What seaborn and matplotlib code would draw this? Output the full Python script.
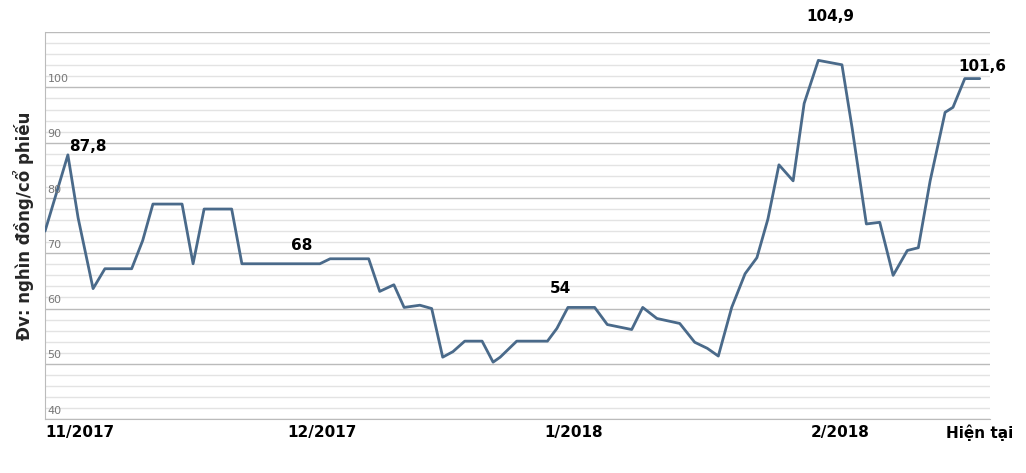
import matplotlib
matplotlib.use("Agg")
import matplotlib.pyplot as plt
import seaborn as sns
import pandas as pd

days = [0, 2.9, 4.2, 6.1, 7.6, 11, 12.4, 13.7, 17.4, 18.8, 20.2, 23.7, 25, 34.9, 36.2, 41.1,
        42.5, 44.3, 45.6, 47.6, 49.1, 50.5, 51.8, 53.3, 55.5, 56.9, 57.8, 59.9, 63.8, 65, 66.4,
        69.8, 71.4, 74.5, 75.9, 77.7, 80.6, 82.5, 84.1, 85.5, 87.2, 88.9, 90.4, 91.8, 93.2, 95,
        96.4, 98.2, 101.2, 102.5, 104.3, 106, 107.7, 109.5, 110.9, 112.4, 114.3, 115.3, 116.8, 118.7]
price = [74, 87.8, 76.4, 63.6, 67.2, 67.2, 72.3, 78.9, 78.9, 68.1, 78.0, 78.0, 68.1, 68.1, 69.0, 69.0,
         63.1, 64.3, 60.2, 60.6, 60.0, 51.2, 52.2, 54.1, 54.1, 50.3, 51.2, 54.1, 54.1, 56.4, 60.2,
         60.2, 57.1, 56.2, 60.2, 58.2, 57.3, 53.9, 52.8, 51.4, 60.2, 66.3, 69.2, 76.2, 86.0, 83.1,
         97.1, 104.9, 104.1, 92.6, 75.3, 75.6, 66.0, 70.5, 71.0, 83.1, 95.5, 96.4, 101.6, 101.6]

tick_pos = [0, 35.2, 67.1, 101, 118.7]
tick_labels = ["11/2017", "12/2017", "1/2018", "2/2018", "Hiện tại"]
ann_x = [5.5, 32.6, 65.4, 99.7, 119]
ann_y = [89.4, 71.4, 63.6, 112.8, 103.8]
ann_text = ["87,8", "68", "54", "104,9", "101,6"]

sns.set_style("white")
plt.rcParams['font.family'] = ['DejaVu Sans']
fig = plt.figure(figsize=(10.26, 4.73), dpi=100)
ax = fig.add_axes([0.0439, 0.114, 0.921, 0.818])
df = pd.DataFrame({"d": days, "p": price})
sns.lineplot(data=df, x="d", y="p", ax=ax, color="#4a6a8a", linewidth=2,
             solid_joinstyle="round", zorder=3)
ax.set_xlim(0, 120)
ax.set_ylim(40, 110)
for v in range(40, 111, 2):
    major = v % 10 == 0
    ax.axhline(v, color="#bbbbbb" if major else "#e3e3e3", lw=1.0, zorder=1)
    if major and v < 110:
        ax.text(0.3, v + 0.6, str(v), color="#777777", fontsize=8, ha="left", va="bottom")
ax.set_yticks([])
ax.set_xticks([])
for s in ["top", "right"]:
    ax.spines[s].set_visible(False)
ax.spines["left"].set_color("#bbbbbb")
ax.spines["bottom"].set_color("#bbbbbb")
for i, (tp, tl) in enumerate(zip(tick_pos, tick_labels)):
    ax.text(tp, 37.5, tl, ha="left" if i == 0 else "center", va="center",
            fontsize=11, fontweight="bold", color="black", clip_on=False)
for x, y, t in zip(ann_x, ann_y, ann_text):
    ax.text(x, y, t, ha="center", va="center", fontsize=11, fontweight="bold",
            color="black", clip_on=False)
ax.set_xlabel("")
ax.set_ylabel("Đv: nghìn đồng/cổ phiếu", fontsize=12, fontweight="bold", labelpad=8)
fig.savefig("out.png", dpi=100)
